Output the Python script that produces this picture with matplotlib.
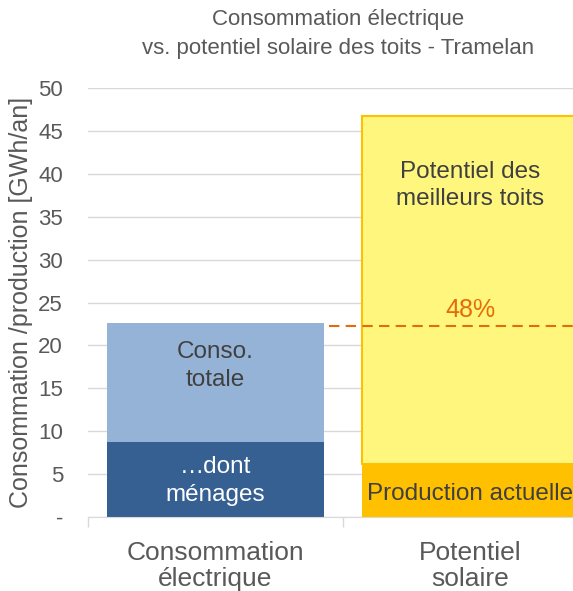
import matplotlib.pyplot as plt

plt.rcParams['font.family'] = ['Liberation Sans', 'DejaVu Sans']

# donnees
categories = ['Consommation\nélectrique', 'Potentiel\nsolaire']
conso_menages = 8.7
conso_totale = 22.6
prod_actuelle = 6.2
potentiel = 46.7
part_potentiel = 22.3   # 48% du potentiel
yticks = [0, 5, 10, 15, 20, 25, 30, 35, 40, 45, 50]
yticklabels = ['-', '5', '10', '15', '20', '25', '30', '35', '40', '45', '50']

fig = plt.figure(figsize=(5.73, 5.91), dpi=100)
# zone du graphique (depasse a droite, comme l'original)
ax = fig.add_axes([88/573, 74/591, 510/573, 429/591])

w = 0.85
grey_txt = '#404040'

# barre gauche
ax.bar(0, conso_menages, width=w, color='#366092', zorder=2)
ax.bar(0, conso_totale - conso_menages, bottom=conso_menages, width=w,
       color='#95B3D7', zorder=2)
# barre droite
ax.bar(1, potentiel - prod_actuelle, bottom=prod_actuelle, width=w,
       color='#FFF77D', edgecolor='#FFC000', linewidth=1.5, zorder=2)
ax.bar(1, prod_actuelle, width=w, color='#FFC000', zorder=3)

# ligne pointillee
ax.plot([0.445, 1.5], [part_potentiel, part_potentiel], color='#E46C0A',
        linestyle=(0, (5, 3)), linewidth=1.5, zorder=4)

ax.text(0, 17.6, 'Conso.\ntotale', ha='center', va='center', fontsize=17.5,
        color=grey_txt, linespacing=1.3, zorder=5)
ax.text(0, 4.2, '…dont\nménages', ha='center', va='center', fontsize=17.5,
        color='white', linespacing=1.3, zorder=5)
ax.text(1, 38.6, 'Potentiel des\nmeilleurs toits', ha='center', va='center',
        fontsize=17.5, color=grey_txt, linespacing=1.3, zorder=5)
ax.text(1, 2.7, 'Production actuelle', ha='center', va='center',
        fontsize=17.5, color=grey_txt, zorder=5)
ax.text(1, 24.1, '48%', ha='center', va='center', fontsize=18,
        color='#E46C0A', zorder=5)

ax.set_xlim(-0.5, 1.5)
ax.set_ylim(0, 50)
ax.set_yticks(yticks)
ax.set_yticklabels(yticklabels, fontsize=16, color='#595959')
ax.set_xticks([0, 1])
ax.set_xticklabels(categories, fontsize=19, color='#595959', linespacing=1.15)
ax.tick_params(axis='y', length=0, pad=18)
ax.tick_params(axis='x', length=0, pad=17)
ax.set_xticks([-0.5, 0.5], minor=True)
ax.tick_params(axis='x', which='minor', length=7, color='#D9D9D9', width=1)

ax.yaxis.grid(True, color='#D9D9D9', linewidth=1, zorder=0)
ax.set_axisbelow(True)
for s in ['top', 'right', 'left']:
    ax.spines[s].set_visible(False)
ax.spines['bottom'].set_color('#D9D9D9')

ax.set_ylabel('Consommation /production [GWh/an]', fontsize=18,
              color='#595959', labelpad=4)

fig.text(338/573, 1 - 34/591, 'Consommation électrique\nvs. potentiel solaire des toits - Tramelan',
         ha='center', va='center', fontsize=16, color='#595959', linespacing=1.45)

fig.savefig('out.png', dpi=100)
